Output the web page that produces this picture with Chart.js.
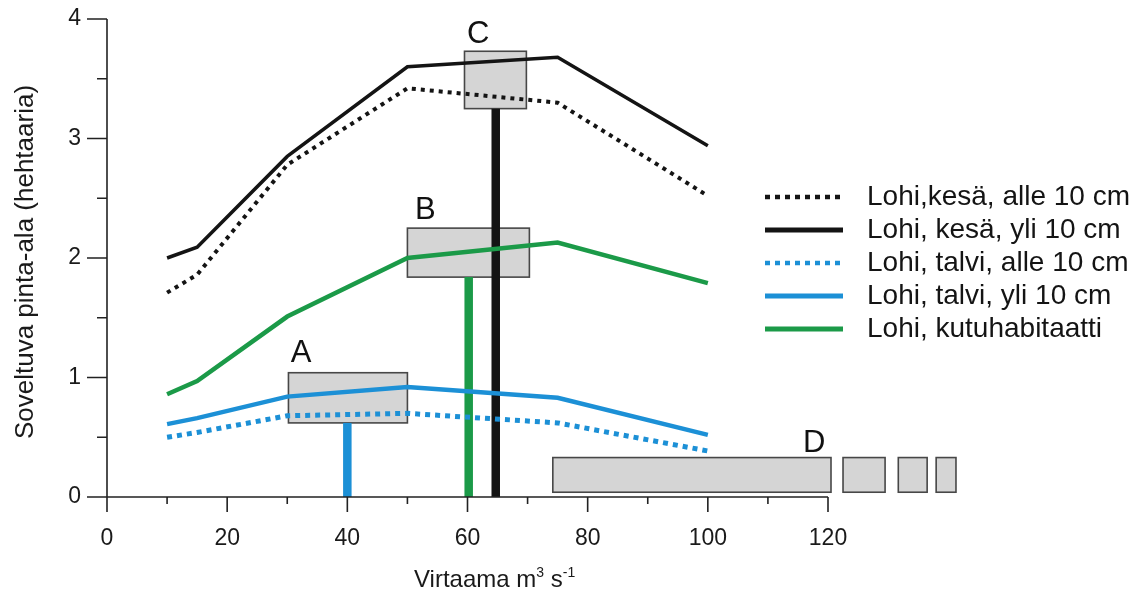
<!DOCTYPE html>
<html>
<head>
<meta charset="utf-8">
<script src="https://cdn.jsdelivr.net/npm/chart.js@4.4.1/dist/chart.umd.min.js"></script>
<style>
html, body { margin: 0; padding: 0; background: #fff; }
#wrap { width: 1135px; height: 596px; }
</style>
</head>
<body>
<div id="wrap"><canvas id="myChart" width="1135" height="596"></canvas></div>
<script>
// flow values (m3/s) where the habitat curves were computed
const flowX = [10, 15, 30, 50, 75, 100];

// suitable area (ha) per series
const kesaAlle = [1.71, 1.86, 2.78, 3.42, 3.30, 2.52];
const kesaYli = [2.00, 2.09, 2.85, 3.60, 3.68, 2.94];
const talviAlle = [0.50, 0.54, 0.68, 0.70, 0.62, 0.385];
const talviYli = [0.61, 0.66, 0.84, 0.92, 0.83, 0.52];
const kutu = [0.86, 0.97, 1.51, 2.00, 2.13, 1.79];

const seriesLabels = [
    'Lohi,kesä, alle 10 cm',
    'Lohi, kesä, yli 10 cm',
    'Lohi, talvi, alle 10 cm',
    'Lohi, talvi, yli 10 cm',
    'Lohi, kutuhabitaatti'
];

// grey range boxes A-D (D is split in four pieces)
const boxX0 = [30.2, 50, 59.5, 74.2, 122.5, 131.7, 138];
const boxX1 = [50, 70.3, 69.8, 120.5, 129.5, 136.5, 141.3];
const boxY0 = [0.62, 1.84, 3.25, 0.04, 0.04, 0.04, 0.04];
const boxY1 = [1.04, 2.25, 3.73, 0.33, 0.33, 0.33, 0.33];

const boxLabels = ['A', 'B', 'C', 'D'];
const boxLabelX = [32.3, 53, 61.8, 117.7];
const boxLabelY = [1.2, 2.4, 3.87, 0.45];

// vertical stems under boxes A, B, C
const stemX = [40, 60.2, 64.7];
const stemTop = [0.62, 1.84, 3.25];

const xTicks = [0, 20, 40, 60, 80, 100, 120];
const yTicks = [0, 1, 2, 3, 4];

const black = '#141414';
const blue = '#1c90d6';
const green = '#1b9a48';
const fontFamily = "'Liberation Sans', Arial, sans-serif";

function toPoints(values) {
    return flowX.map((fx, i) => ({ x: fx, y: values[i] }));
}

function lineSet(label, values, color, width, dash) {
    return {
        label: label,
        data: toPoints(values),
        borderColor: color,
        borderWidth: width,
        borderDash: dash,
        borderCapStyle: 'butt',
        pointRadius: 0,
        tension: 0,
        fill: false,
        clip: false
    };
}

const stemColors = [blue, green, black];

let datasets = [
    lineSet(seriesLabels[0], kesaAlle, black, 4, [4, 5]),
    lineSet(seriesLabels[1], kesaYli, black, 3.5, []),
    lineSet(seriesLabels[2], talviAlle, blue, 5, [5, 5]),
    lineSet(seriesLabels[3], talviYli, blue, 4.5, []),
    lineSet(seriesLabels[4], kutu, green, 4.5, [])
];

for (let i = 0; i < stemX.length; i++) {
    datasets.push({
        label: 'stem' + i,
        data: [{ x: stemX[i], y: 0 }, { x: stemX[i], y: stemTop[i] }],
        borderColor: stemColors[i],
        borderWidth: 8.5,
        borderCapStyle: 'butt',
        pointRadius: 0,
        fill: false,
        clip: false
    });
}

function drawSup(ctx, parts, x, y) {
    // parts: [text, isSuperscript]
    let cx = x;
    parts.forEach(p => {
        if (p[1]) {
            ctx.font = '14px ' + fontFamily;
            ctx.fillText(p[0], cx, y - 10);
        } else {
            ctx.font = '24px ' + fontFamily;
            ctx.fillText(p[0], cx, y);
        }
        cx += ctx.measureText(p[0]).width;
    });
}

const sketchPlugin = {
    id: 'sketch',
    beforeDatasetsDraw(chart) {
        const { ctx, scales: { x, y } } = chart;
        ctx.save();
        for (let i = 0; i < boxX0.length; i++) {
            const l = x.getPixelForValue(boxX0[i]);
            const r = x.getPixelForValue(boxX1[i]);
            const t = y.getPixelForValue(boxY1[i]);
            const b = y.getPixelForValue(boxY0[i]);
            ctx.fillStyle = '#d5d5d5';
            ctx.fillRect(l, t, r - l, b - t);
            ctx.strokeStyle = '#474747';
            ctx.lineWidth = 1.6;
            ctx.strokeRect(l, t, r - l, b - t);
        }
        ctx.fillStyle = '#111';
        ctx.font = '31px ' + fontFamily;
        ctx.textAlign = 'center';
        ctx.textBaseline = 'middle';
        for (let i = 0; i < boxLabels.length; i++) {
            ctx.fillText(boxLabels[i], x.getPixelForValue(boxLabelX[i]), y.getPixelForValue(boxLabelY[i]));
        }
        ctx.restore();
    },
    afterDraw(chart) {
        const { ctx, scales: { x, y } } = chart;
        ctx.save();
        ctx.strokeStyle = '#222';
        ctx.lineWidth = 1.6;

        // y axis with ticks every 0.5
        const ax = x.getPixelForValue(0);
        ctx.beginPath();
        ctx.moveTo(ax, y.getPixelForValue(0));
        ctx.lineTo(ax, y.getPixelForValue(4));
        for (let v = 0; v <= 4; v += 0.5) {
            const py = y.getPixelForValue(v);
            const len = (v % 1 === 0) ? 20 : 10;
            ctx.moveTo(ax - len, py);
            ctx.lineTo(ax, py);
        }
        // x axis with ticks every 10
        const ay = y.getPixelForValue(0);
        ctx.moveTo(ax, ay);
        ctx.lineTo(x.getPixelForValue(120), ay);
        for (let v = 0; v <= 120; v += 10) {
            const px = x.getPixelForValue(v);
            const len = (v % 20 === 0) ? 15 : 7;
            ctx.moveTo(px, ay);
            ctx.lineTo(px, ay + len);
        }
        ctx.stroke();

        // axis titles
        ctx.fillStyle = '#1a1a1a';
        ctx.textAlign = 'left';
        ctx.textBaseline = 'alphabetic';
        drawSup(ctx, [['Virtaama m', false], ['3', true], [' s', false], ['-1', true]], 414, 587);

        ctx.save();
        ctx.translate(33, 262);
        ctx.rotate(-Math.PI / 2);
        ctx.textAlign = 'center';
        ctx.font = '26px ' + fontFamily;
        ctx.fillText('Soveltuva pinta-ala (hehtaaria)', 0, 0);
        ctx.restore();

        // legend
        ctx.textBaseline = 'middle';
        ctx.font = '28px ' + fontFamily;
        for (let i = 0; i < seriesLabels.length; i++) {
            const ds = chart.data.datasets[i];
            const ry = 197 + i * 33;
            ctx.beginPath();
            ctx.strokeStyle = ds.borderColor;
            ctx.lineWidth = ds.borderDash.length ? 4.5 : 5;
            ctx.setLineDash(ds.borderDash.length ? [5, 5] : []);
            ctx.moveTo(765, ry);
            ctx.lineTo(843, ry);
            ctx.stroke();
            ctx.setLineDash([]);
            ctx.fillStyle = '#141414';
            ctx.fillText(seriesLabels[i], 867, ry);
        }
        ctx.restore();
    }
};

function noPad(axis) {
    axis.paddingTop = 0;
    axis.paddingBottom = 0;
    axis.paddingLeft = 0;
    axis.paddingRight = 0;
}

const myChart = document.getElementById('myChart');

let lineChart = new Chart(myChart, {
    type: 'line',
    data: { datasets: datasets },
    options: {
        responsive: false,
        animation: false,
        events: [],
        layout: { autoPadding: false, padding: { left: 0, right: 307, top: 19, bottom: 0 } },
        plugins: {
            legend: { display: false },
            tooltip: { enabled: false }
        },
        scales: {
            x: {
                type: 'linear',
                min: 0,
                max: 120,
                afterBuildTicks: axis => { axis.ticks = xTicks.map(v => ({ value: v })); },
                afterFit: axis => { axis.height = 99; noPad(axis); },
                grid: { display: false, drawTicks: false },
                border: { display: false },
                ticks: {
                    color: '#1a1a1a',
                    padding: 28,
                    maxRotation: 0,
                    font: { family: fontFamily, size: 23 }
                }
            },
            y: {
                type: 'linear',
                min: 0,
                max: 4,
                afterBuildTicks: axis => { axis.ticks = yTicks.map(v => ({ value: v })); },
                afterFit: axis => { axis.width = 107; noPad(axis); },
                grid: { display: false, drawTicks: false },
                border: { display: false },
                ticks: {
                    color: '#1a1a1a',
                    padding: 26,
                    font: { family: fontFamily, size: 23 }
                }
            }
        }
    },
    plugins: [sketchPlugin]
});
</script>
</body>
</html>
